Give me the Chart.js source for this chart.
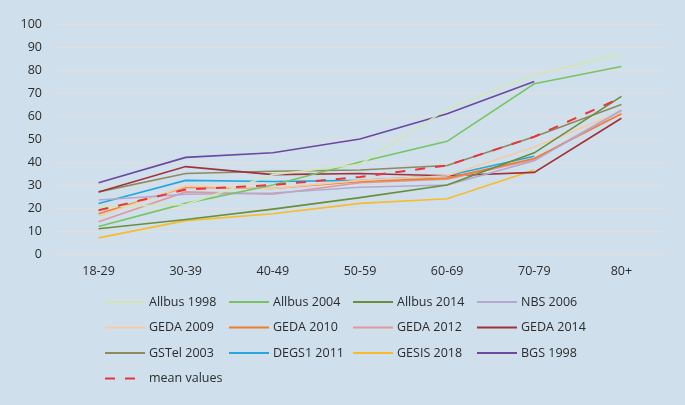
<!DOCTYPE html>
<html>
<head>
<meta charset="utf-8">
<script src="https://cdn.jsdelivr.net/npm/chart.js@4/dist/chart.umd.min.js"></script>
<style>
  html, body { margin: 0; padding: 0; background: #cfe0ec; }
  #wrap { position: relative; width: 685px; height: 405px; }
</style>
</head>
<body>
<div id="wrap"><canvas id="c" width="685" height="405"></canvas></div>
<script>
const categories = ["18-29", "30-39", "40-49", "50-59", "60-69", "70-79", "80+"];
const yTicks = [0, 10, 20, 30, 40, 50, 60, 70, 80, 90, 100];

const allbus1998 = [20.5, 21.5, 34.5, 39, 63, 78, 87];
const allbus2004 = [12, 22, 30, 40, 49, 74, 81.5];
const allbus2014 = [11, 15, 19.5, 24.5, 30, 44, 68.5];
const nbs2006    = [23.5, 26, 26.5, 29, 30, 40.5, 62.5];
const geda2009   = [16.5, 29.5, 28.5, 32, 34, 46.5, 62];
const geda2010   = [17.5, 29, 28.5, 31.5, 33, 41.5, 61];
const geda2012   = [14, 27, 26, 31, 32.5, 41, 62.5];
const geda2014   = [27, 38, 34.5, 35, 34, 35.5, 59];
const gstel2003  = [27, 35, 36, 36.5, 38.5, 51, 65];
const degs12011  = [22, 32, 31.5, 32, 34, 42.5, null];
const gesis2018  = [7, 14.5, 17.5, 22, 24, 36.5, null];
const bgs1998    = [31, 42, 44, 50, 61, 75, null];
const meanValues = [19, 28, 30, 33.5, 38.5, 51, 68];

const seriesNames = ["Allbus 1998", "Allbus 2004", "Allbus 2014", "NBS 2006",
  "GEDA 2009", "GEDA 2010", "GEDA 2012", "GEDA 2014",
  "GSTel 2003", "DEGS1 2011", "GESIS 2018", "BGS 1998", "mean values"];
const seriesData = [allbus1998, allbus2004, allbus2014, nbs2006,
  geda2009, geda2010, geda2012, geda2014,
  gstel2003, degs12011, gesis2018, bgs1998, meanValues];
const seriesColors = ["#d3e5b6", "#78c463", "#6a8f3c", "#b5a7cf",
  "#f8caa2", "#f07c2c", "#e0999a", "#a1313a",
  "#8c8a5f", "#25a6de", "#f9ba2c", "#6b479e", "#e8353c"];

const FONT = "'Open Sans', sans-serif";

const datasets = seriesNames.map((name, i) => ({
  label: name,
  data: seriesData[i],
  borderColor: seriesColors[i],
  backgroundColor: seriesColors[i],
  borderWidth: i === 12 ? 2 : 1.6,
  borderDash: i === 12 ? [10, 10] : [],
  pointRadius: 0,
  pointHoverRadius: 0,
  tension: 0,
  fill: false,
  spanGaps: false,
  order: i === 12 ? -1 : 0
}));

const gridLegend = {
  id: 'gridLegend',
  afterDraw(chart) {
    const ctx = chart.ctx;
    ctx.save();
    ctx.font = "12.5px " + FONT;
    ctx.textBaseline = 'middle';
    ctx.textAlign = 'left';
    const x0 = 105, colW = 124, y0 = 302, rowH = 25.5;
    chart.data.datasets.forEach((ds, i) => {
      const col = i % 4, row = Math.floor(i / 4);
      const x = x0 + col * colW, y = y0 + row * rowH;
      ctx.strokeStyle = ds.borderColor;
      ctx.lineWidth = ds.borderDash.length ? 2 : 2;
      ctx.setLineDash(ds.borderDash.length ? [10, 10] : []);
      ctx.beginPath();
      ctx.moveTo(x, y);
      ctx.lineTo(x + 40, y);
      ctx.stroke();
      ctx.setLineDash([]);
      ctx.fillStyle = '#2b2b2b';
      ctx.fillText(ds.label, x + 44, y);
    });
    ctx.restore();
  }
};

new Chart(document.getElementById('c'), {
  type: 'line',
  data: { labels: categories, datasets },
  options: {
    responsive: false,
    animation: false,
    events: [],
    layout: { padding: { top: 24, right: 20, left: 0, bottom: 0 } },
    plugins: { legend: { display: false }, tooltip: { enabled: false } },
    scales: {
      x: {
        offset: true,
        grid: { display: false, drawTicks: false },
        border: { display: false },
        ticks: { color: '#2b2b2b', font: { family: FONT, size: 12.5 }, padding: 10, maxRotation: 0 },
        afterFit(scale) { scale.height = 151; }
      },
      y: {
        min: 0, max: 100,
        afterBuildTicks(scale) { scale.ticks = yTicks.map(v => ({ value: v })); },
        grid: { color: '#e4dedb', lineWidth: 1, drawTicks: false },
        border: { display: false },
        ticks: { color: '#2b2b2b', font: { family: FONT, size: 12.5 }, padding: 13 },
        afterFit(scale) { scale.width = 55; }
      }
    }
  },
  plugins: [gridLegend]
});
</script>
</body>
</html>
